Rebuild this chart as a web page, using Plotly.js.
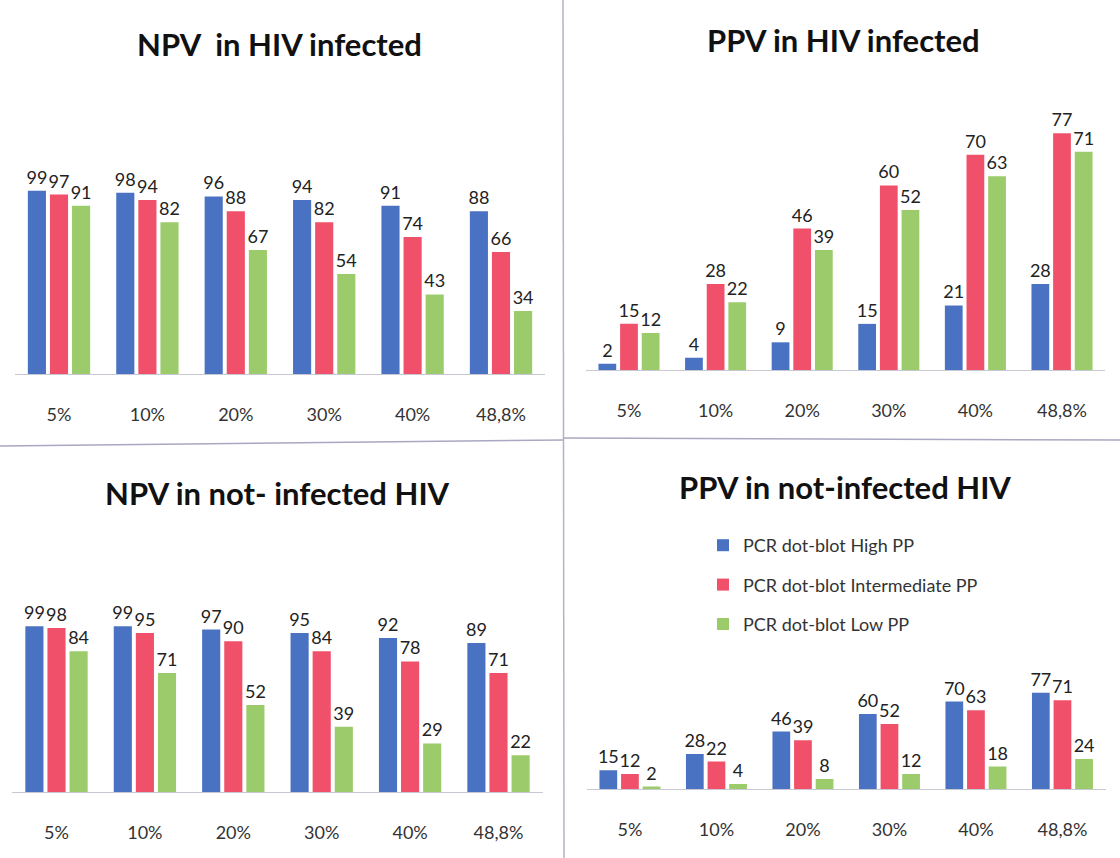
<!DOCTYPE html>
<html>
<head>
<meta charset="utf-8">
<script src="https://cdn.plot.ly/plotly-3.0.1.min.js"></script>
<style>html,body{margin:0;padding:0;background:#fff;}#chart{width:1120px;height:858px;}</style>
</head>
<body>
<div id="chart"></div>
<script>
// ---- data ----
const categories = ['5%', '10%', '20%', '30%', '40%', '48,8%'];
const seriesNames = ['PCR dot-blot High PP', 'PCR dot-blot Intermediate PP', 'PCR dot-blot Low PP'];

const npvInfectedHigh = [99, 98, 96, 94, 91, 88];
const npvInfectedInter = [97, 94, 88, 82, 74, 66];
const npvInfectedLow = [91, 82, 67, 54, 43, 34];

const ppvInfectedHigh = [2, 4, 9, 15, 21, 28];
const ppvInfectedInter = [15, 28, 46, 60, 70, 77];
const ppvInfectedLow = [12, 22, 39, 52, 63, 71];

const npvNotInfectedHigh = [99, 99, 97, 95, 92, 89];
const npvNotInfectedInter = [98, 95, 90, 84, 78, 71];
const npvNotInfectedLow = [84, 71, 52, 39, 29, 22];

const ppvNotInfectedHigh = [15, 28, 46, 60, 70, 77];
const ppvNotInfectedInter = [12, 22, 39, 52, 63, 71];
const ppvNotInfectedLow = [2, 4, 8, 12, 18, 24];

const panelTitles = ['NPV\u00a0 in HIV infected', 'PPV in HIV infected', 'NPV in not- infected HIV', 'PPV in not-infected HIV'];

// ---- styles ----
const colors = ['#4a72c2', '#f0506a', '#9bcb6a'];
const labelFont = {family: 'Lato, sans-serif', size: 18, color: '#222'};
const titleFont = {family: 'Lato, sans-serif', size: 31, color: '#111', weight: 'bold'};

const panels = [
  {ax: '', series: [npvInfectedHigh, npvInfectedInter, npvInfectedLow]},
  {ax: '2', series: [ppvInfectedHigh, ppvInfectedInter, ppvInfectedLow]},
  {ax: '3', series: [npvNotInfectedHigh, npvNotInfectedInter, npvNotInfectedLow]},
  {ax: '4', series: [ppvNotInfectedHigh, ppvNotInfectedInter, ppvNotInfectedLow]}
];

const traces = [];
panels.forEach((p, pi) => {
  p.series.forEach((vals, si) => {
    traces.push({
      type: 'bar',
      x: categories,
      y: vals,
      name: seriesNames[si],
      legendgroup: 'g' + si,
      showlegend: pi === 3,
      xaxis: 'x' + p.ax,
      yaxis: 'y' + p.ax,
      marker: {color: colors[si]},
      text: vals.map(String),
      textposition: 'outside',
      textfont: labelFont,
      constraintext: 'none',
      cliponaxis: false,
      hoverinfo: 'x+y+name'
    });
  });
});

const W = 1120, H = 858;
function xd(l, r) { return [l / W, r / W]; }
function yd(bottomPx, topPx) { return [(H - bottomPx) / H, (H - topPx) / H]; }

function xAxis(domain, anchor) {
  return {
    domain: domain, anchor: anchor, type: 'category',
    showline: true, linecolor: '#c8c8d2', linewidth: 1,
    ticks: 'outside', ticklen: 24, tickcolor: 'rgba(0,0,0,0)',
    tickfont: {family: 'Lato, sans-serif', size: 18, color: '#333'},
    showgrid: false, zeroline: false, fixedrange: true
  };
}
function yAxis(domain, anchor, max) {
  return {
    domain: domain, anchor: anchor, range: [0, max],
    showticklabels: false, showgrid: false, zeroline: false, showline: false, ticks: '', fixedrange: true
  };
}

const annotations = [
  {text: panelTitles[0], x: 279, y: 44},
  {text: panelTitles[1], x: 843, y: 40},
  {text: panelTitles[2], x: 277, y: 493},
  {text: panelTitles[3], x: 845, y: 487}
].map(a => ({
  text: a.text, xref: 'paper', yref: 'paper',
  x: a.x / W, y: (H - a.y) / H, xanchor: 'center', yanchor: 'middle',
  showarrow: false, font: titleFont
}));

const layout = {
  width: W, height: H,
  margin: {l: 0, r: 0, t: 0, b: 0},
  paper_bgcolor: '#ffffff', plot_bgcolor: 'rgba(0,0,0,0)',
  barmode: 'group', bargap: 0.25, bargroupgap: 0.18,
  showlegend: true,
  legend: {
    x: 703 / W, y: (H - 527) / H, xanchor: 'left', yanchor: 'top',
    font: {family: 'Lato, sans-serif', size: 18, color: '#333'},
    traceorder: 'grouped', tracegroupgap: 13, bgcolor: 'rgba(0,0,0,0)'
  },
  xaxis: xAxis(xd(14.8, 545.2), 'y'),
  yaxis: yAxis(yd(374, 170.5), 'x', 110),
  xaxis2: xAxis(xd(585.7, 1105.3), 'y2'),
  yaxis2: yAxis(yd(370, 108.6), 'x2', 85),
  xaxis3: xAxis(xd(12.3, 542.7), 'y3'),
  yaxis3: yAxis(yd(792, 607.8), 'x3', 110),
  xaxis4: xAxis(xd(586.7, 1105.7), 'y4'),
  yaxis4: yAxis(yd(789, 664), 'x4', 100),
  annotations: annotations,
  shapes: [
    {type: 'line', xref: 'paper', yref: 'paper', x0: 563 / W, x1: 564 / W, y0: 1, y1: 0, line: {color: '#b4b4c4', width: 1.5}},
    {type: 'line', xref: 'paper', yref: 'paper', x0: 0, x1: 563 / W, y0: (H - 446) / H, y1: (H - 440) / H, line: {color: '#a8a8c0', width: 1.5}},
    {type: 'line', xref: 'paper', yref: 'paper', x0: 563 / W, x1: 1, y0: (H - 438) / H, y1: (H - 440) / H, line: {color: '#a8a8c0', width: 1.5}}
  ]
};

Plotly.newPlot('chart', traces, layout, {displayModeBar: false, staticPlot: true});
</script>
</body>
</html>
